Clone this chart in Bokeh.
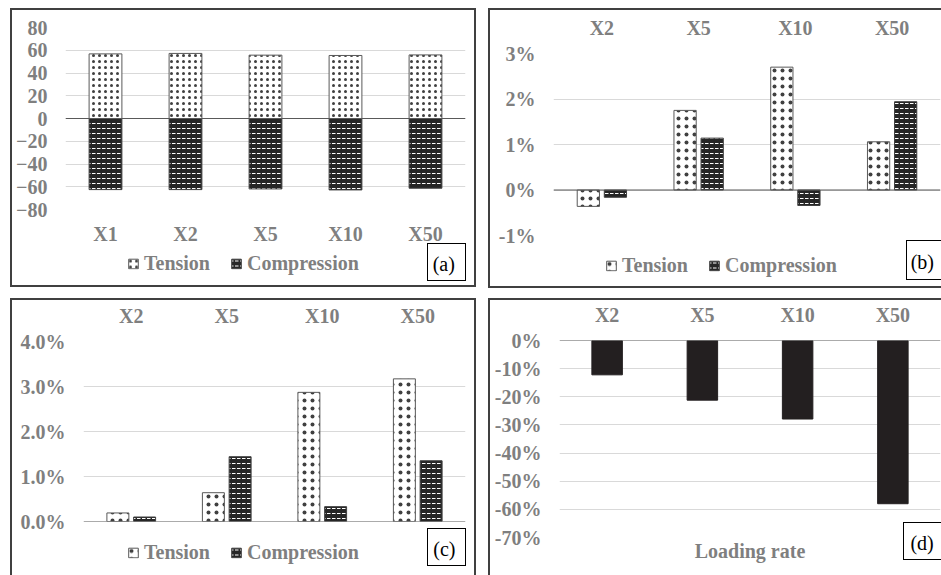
from bokeh.plotting import figure
from bokeh.models import (Range1d, FactorRange, FixedTicker, PrintfTickFormatter,
                          Span, Legend, LegendItem, Label, Title, ColumnDataSource)
from bokeh.transform import dodge
from bokeh.embed import file_html
from bokeh.resources import INLINE

# ---------------- data ----------------
cats_a = ["X1", "X2", "X5", "X10", "X50"]
tension_a = [56.8, 57.2, 55.7, 55.4, 55.9]
compression_a = [-62.5, -62.5, -61.9, -62.8, -61.3]
ticks_a = [-80, -60, -40, -20, 0, 20, 40, 60, 80]

cats_bcd = ["X2", "X5", "X10", "X50"]
tension_b = [-0.36, 1.75, 2.70, 1.06]        # %
compression_b = [-0.16, 1.14, -0.34, 1.94]   # %
ticks_b = [-1, 0, 1, 2, 3]

tension_c = [0.19, 0.64, 2.87, 3.17]         # %
compression_c = [0.10, 1.44, 0.33, 1.35]     # %
ticks_c = [0, 1, 2, 3, 4]

reduction_d = [-12.2, -21.2, -27.9, -58.0]   # %
ticks_d = [-70, -60, -50, -40, -30, -20, -10, 0]

series_labels = ["Tension", "Compression"]
panel_tags = ["(a)", "(b)", "(c)", "(d)"]
x_title_d = "Loading rate"

# ---------------- style ----------------
FONT = "Liberation Serif"
GRAY = "#7f7f7f"
GRID = "#d9d9d9"
BORDER = "2px solid #404040"
DARK = "#262626"

T_STYLE = dict(fill_color="white", line_color="#595959", line_width=1,
               hatch_pattern="dot", hatch_color="#404040", hatch_weight=0.2)
C_STYLE = dict(fill_color=DARK, line_color="#404040", line_width=1,
               hatch_pattern="horizontal_dash", hatch_color="white", hatch_weight=1)


def place(left, top, sides, line=BORDER):
    st = {"position": "absolute", "left": f"{left}px", "top": f"{top}px",
          "box-sizing": "content-box"}
    for s in sides:
        st[f"border-{s}"] = line
    return st


def make_fig(w, h, cats, yr, ticks, fmt, xloc, styles, mb):
    p = figure(width=w, height=h, x_range=FactorRange(*cats), y_range=Range1d(*yr),
               output_backend="svg", toolbar_location=None, x_axis_location=xloc,
               min_border_left=mb[0], min_border_right=mb[1],
               min_border_top=mb[2], min_border_bottom=mb[3])
    p.styles = styles
    p.outline_line_color = None
    p.background_fill_color = "white"
    p.border_fill_color = "white"
    for ax in p.axis:
        ax.axis_line_color = None
        ax.major_tick_line_color = None
        ax.minor_tick_line_color = None
        ax.major_tick_in = 0
        ax.major_tick_out = 0
        ax.minor_tick_in = 0
        ax.minor_tick_out = 0
        ax.major_label_text_font = FONT
        ax.major_label_text_font_style = "bold"
        ax.major_label_text_font_size = "20px"
        ax.major_label_text_color = GRAY
    p.yaxis.ticker = FixedTicker(ticks=ticks)
    if fmt is not None:
        p.yaxis.formatter = fmt
    p.yaxis.major_label_standoff = 18
    p.xaxis.major_label_standoff = 13 if xloc == "below" else 15
    p.xgrid.visible = False
    p.ygrid.grid_line_color = GRID
    p.ygrid.grid_line_width = 1
    p.add_layout(Span(location=0, dimension="width", line_color="#595959", line_width=1))
    return p


def overlay(w, h, styles):
    o = figure(width=w, height=h, x_range=Range1d(0, 1), y_range=Range1d(0, 1),
               x_axis_type=None, y_axis_type=None, output_backend="svg",
               toolbar_location=None, min_border=0)
    o.styles = styles
    o.outline_line_color = None
    o.background_fill_alpha = 0
    o.border_fill_alpha = 0
    return o


def legend_box(left, top, t_scale):
    o = overlay(250, 30, place(left, top, []))
    # swatch renderers: one bar each, kept outside the visible range
    r1 = o.vbar(x=[5], top=[1], width=0.5, hatch_scale=t_scale, **T_STYLE)
    r2 = o.vbar(x=[5], top=[1], width=0.5, hatch_scale=5, **C_STYLE)
    lg = Legend(items=[LegendItem(label=series_labels[0], renderers=[r1]),
                       LegendItem(label=series_labels[1], renderers=[r2])],
                location="left", orientation="horizontal",
                border_line_color=None, background_fill_alpha=0,
                padding=0, margin=0, spacing=20, label_standoff=5,
                glyph_width=12, glyph_height=12,
                label_text_font=FONT, label_text_font_style="bold",
                label_text_font_size="20px", label_text_color=GRAY)
    o.add_layout(lg)
    return o


def tag_box(text, left, top, w, h, tx, sides):
    o = overlay(w, h, place(left, top, sides, "1.5px solid #000000"))
    o.background_fill_color = "white"
    o.background_fill_alpha = 1
    o.border_fill_color = "white"
    o.border_fill_alpha = 1
    o.add_layout(Label(x=tx, y=0.5, x_units="screen", y_units="data", text=text,
                       text_font=FONT, text_font_size="20px", text_color="black",
                       text_align="left", text_baseline="middle"))
    return o


# ---------------- panel (a) ----------------
pa = make_fig(462, 275, cats_a, (-80, 80), ticks_a, None, "below",
              place(10, 8, ["left", "top", "right", "bottom"]), (53, 13, 17, 80))
src_a = ColumnDataSource(dict(cat=cats_a, t=tension_a, c=compression_a))
pa.vbar(x="cat", top="t", bottom=0, width=0.41, source=src_a, hatch_scale=6, **T_STYLE)
pa.vbar(x="cat", top=0, bottom="c", width=0.41, source=src_a, hatch_scale=5, **C_STYLE)

# ---------------- panel (b) ----------------
pb = make_fig(451, 276, cats_bcd, (-1, 3), ticks_b, PrintfTickFormatter(format="%d%%"), "above",
              place(488, 8, ["left", "top", "bottom"]), (63, 3, 43, 55))
src_b = ColumnDataSource(dict(cat=cats_bcd, t=tension_b, c=compression_b))
pb.vbar(x=dodge("cat", -0.14, range=pb.x_range), top="t", bottom=0, width=0.23,
        source=src_b, hatch_scale=8, **T_STYLE)
pb.vbar(x=dodge("cat", 0.14, range=pb.x_range), top="c", bottom=0, width=0.23,
        source=src_b, hatch_scale=5, **C_STYLE)

# ---------------- panel (c) ----------------
pc = make_fig(462, 275, cats_bcd, (0, 4), ticks_c, PrintfTickFormatter(format="%.1f%%"), "above",
              place(10, 298, ["left", "top", "right"]), (71, 13, 41, 56))
src_c = ColumnDataSource(dict(cat=cats_bcd, t=tension_c, c=compression_c))
pc.vbar(x=dodge("cat", -0.14, range=pc.x_range), top="t", bottom=0, width=0.23,
        source=src_c, hatch_scale=8, **T_STYLE)
pc.vbar(x=dodge("cat", 0.14, range=pc.x_range), top="c", bottom=0, width=0.23,
        source=src_c, hatch_scale=5, **C_STYLE)

# ---------------- panel (d) ----------------
pd = make_fig(451, 275, cats_bcd, (-70, 0), ticks_d, PrintfTickFormatter(format="%d%%"), "above",
              place(488, 298, ["left", "top"]), (69, 3, 39, 40))
src_d = ColumnDataSource(dict(cat=cats_bcd, v=reduction_d))
pd.vbar(x="cat", top=0, bottom="v", width=0.32, source=src_d,
        fill_color="#231f20", line_color="#231f20", line_width=1)
pd.add_layout(Title(text=x_title_d, align="center", text_font=FONT, text_font_style="bold",
                    text_font_size="20px", text_color=GRAY, standoff=0), "below")

# ---------------- legends and panel tags ----------------
leg_a = legend_box(127, 248, 6)
leg_b = legend_box(605, 250, 8)
leg_c = legend_box(127, 537, 8)

tag_a = tag_box(panel_tags[0], 427, 243, 37, 36, 4.2, ["left", "top", "right", "bottom"])
tag_b = tag_box(panel_tags[1], 906, 240, 34, 38, 3.2, ["left", "top", "bottom"])
tag_c = tag_box(panel_tags[2], 427, 528, 37, 36, 4.8, ["left", "top", "right", "bottom"])
tag_d = tag_box(panel_tags[3], 903, 522, 37, 36, 5.9, ["left", "top", "bottom"])

roots = [pa, pb, pc, pd, leg_a, leg_b, leg_c, tag_a, tag_b, tag_c, tag_d]

with open("out.html", "w") as f:
    f.write(file_html(roots, INLINE))
